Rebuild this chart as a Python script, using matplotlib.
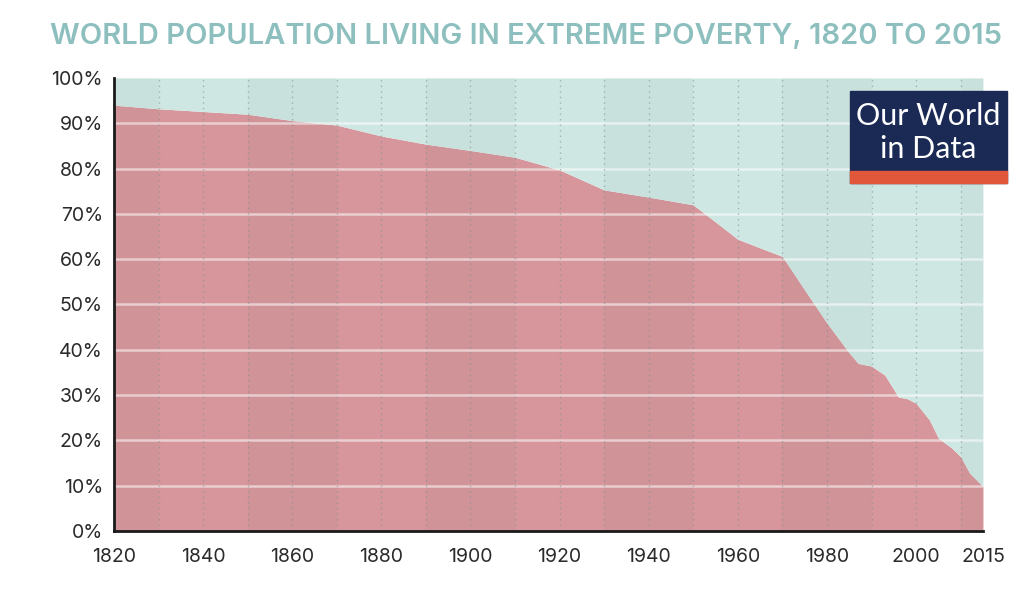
import matplotlib.pyplot as plt
from matplotlib.patches import Rectangle

# share of world population living in extreme poverty (%)
years = [1820, 1830, 1840, 1850, 1860, 1870, 1880, 1890, 1900, 1910, 1920,
         1930, 1940, 1950, 1960, 1970, 1975, 1980, 1985, 1987, 1990, 1993,
         1996, 1998, 2000, 2003, 2005, 2008, 2010, 2012, 2015]
poverty = [94.0, 93.2, 92.6, 92.0, 90.6, 89.6, 87.2, 85.4, 84.0, 82.5, 79.7,
           75.3, 73.7, 72.0, 64.4, 60.6, 53.2, 45.9, 39.3, 37.0, 36.4, 34.4,
           29.6, 29.2, 28.2, 24.5, 20.5, 18.3, 16.4, 12.8, 9.8]

x_ticks = [1820, 1840, 1860, 1880, 1900, 1920, 1940, 1960, 1980, 2000, 2015]
y_ticks = list(range(0, 101, 10))

pink = '#d6969b'
teal = '#cfe7e3'

fig = plt.figure(figsize=(10.36, 6.06), dpi=100)
ax = fig.add_axes([0.110, 0.1238, 0.8388, 0.7475])

ax.fill_between(years, 0, poverty, color=pink, linewidth=0, zorder=1)
ax.fill_between(years, poverty, 100, color=teal, linewidth=0, zorder=1)

# subtle darker column bands
for start in range(1810, 2015, 40):
    ax.axvspan(max(start, 1820), min(start + 20, 2015), color='#3a5a5a',
               alpha=0.04, linewidth=0, zorder=2)

for v in range(10, 100, 10):
    ax.axhline(v, color='white', alpha=0.55, linewidth=1.8, zorder=3)
for yr in range(1830, 2015, 10):
    ax.axvline(yr, color='#7d8f8f', alpha=0.6, linewidth=1,
               linestyle=(0, (1, 3)), zorder=3)

ax.set_xlim(1820, 2015)
ax.set_ylim(0, 100)
ax.set_xticks(x_ticks)
ax.set_yticks(y_ticks)
ax.set_yticklabels([f'{v}%' for v in y_ticks])
ax.tick_params(length=0, labelsize=14, colors='#2b2b2b')
ax.tick_params(axis='x', pad=12)
ax.tick_params(axis='y', pad=8)
for lab in ax.get_xticklabels() + ax.get_yticklabels():
    lab.set_family('Inter')
for s in ['top', 'right']:
    ax.spines[s].set_visible(False)
for s in ['left', 'bottom']:
    ax.spines[s].set_linewidth(2)
    ax.spines[s].set_color('#1a1a1a')
    ax.spines[s].set_zorder(5)

fig.text(0.508, 0.94, 'WORLD POPULATION LIVING IN EXTREME POVERTY, 1820 TO 2015',
         ha='center', va='center', fontsize=21, color='#8cbfbd',
         family='Inter', weight='semibold')

# Our World in Data logo
W, H = 1036, 606
fig.patches.append(Rectangle((850 / W, (H - 183) / H), 157 / W, 92 / H,
                             transform=fig.transFigure, color='#1b2a55', zorder=10))
fig.patches.append(Rectangle((850 / W, (H - 183) / H), 157 / W, 12 / H,
                             transform=fig.transFigure, color='#e0573a', zorder=11))
fig.text(928.5 / W, (H - 116) / H, 'Our World', ha='center', va='center',
         fontsize=22, color='white', family='Lato', zorder=12)
fig.text(928.5 / W, (H - 149) / H, 'in Data', ha='center', va='center',
         fontsize=22, color='white', family='Lato', zorder=12)

fig.savefig('out.png', dpi=100)
